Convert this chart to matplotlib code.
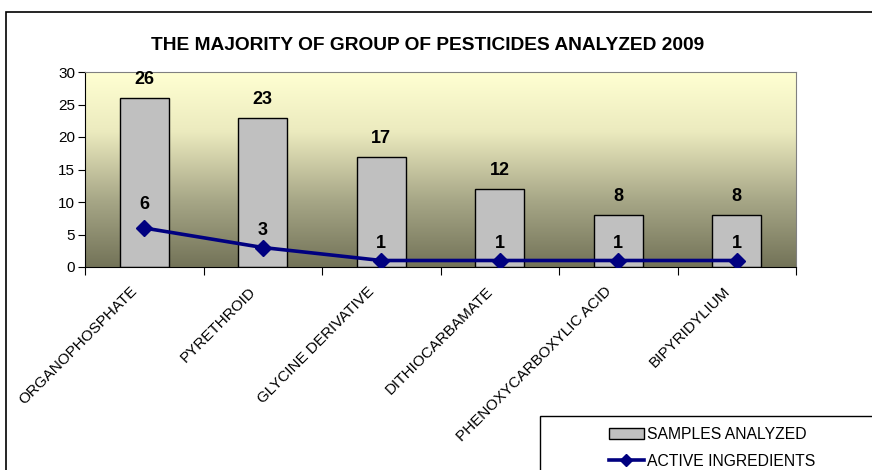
import numpy as np
import matplotlib.pyplot as plt
import matplotlib.transforms as mtransforms
from matplotlib.colors import LinearSegmentedColormap
from matplotlib.patches import Rectangle
from matplotlib.lines import Line2D

plt.rcParams['font.family'] = ['Liberation Sans', 'DejaVu Sans']

categories = ['ORGANOPHOSPHATE', 'PYRETHROID', 'GLYCINE DERIVATIVE',
              'DITHIOCARBAMATE', 'PHENOXYCARBOXYLIC ACID', 'BIPYRIDYLIUM']
samples = [26, 23, 17, 12, 8, 8]
ingredients = [6, 3, 1, 1, 1, 1]

fig = plt.figure(figsize=(8.72, 4.70), dpi=100)
ax = fig.add_axes([85/872, 1 - 267/470, 711/872, 195/470])

# gradient background (yellow top -> olive bottom)
cmap = LinearSegmentedColormap.from_list(
    'bg', [(0, '#737358'), (0.35, '#a8a888'), (0.7, '#ecebbf'), (1, '#ffffd2')])
grad = np.linspace(0, 1, 256).reshape(-1, 1)
ax.imshow(grad, cmap=cmap, aspect='auto', origin='lower',
          extent=[-0.5, 5.5, 0, 30], zorder=0)

x = np.arange(len(categories))
bars = ax.bar(x, samples, width=0.41, color='#c0c0c0', edgecolor='black',
              linewidth=1, zorder=2, label='SAMPLES ANALYZED')
ax.plot(x, ingredients, color='#000080', linewidth=2.6, marker='D',
        markersize=8, zorder=3, label='ACTIVE INGREDIENTS')

for xi, v in zip(x, samples):
    ax.annotate(str(v), (xi, v), xytext=(0, 13), textcoords='offset points',
                ha='center', va='center', fontsize=13, fontweight='bold')
for xi, v in zip(x, ingredients):
    off = 17 if v == max(ingredients) else 12
    ax.annotate(str(v), (xi, v), xytext=(0, off), textcoords='offset points',
                ha='center', va='center', fontsize=13, fontweight='bold')

ax.set_xlim(-0.5, 5.5)
ax.set_ylim(0, 30)
ax.set_yticks(range(0, 31, 5))
ax.tick_params(axis='y', labelsize=11, length=5, direction='out', pad=2)

ax.set_xticks(np.arange(-0.5, 6, 1))
ax.set_xticklabels([])
ax.tick_params(axis='x', length=6, direction='out')
ax.set_xticks(x, minor=True)
ax.set_xticklabels(categories, minor=True, rotation=45, ha='right', va='center',
                   rotation_mode='anchor', fontsize=11)
ax.tick_params(axis='x', which='minor', length=0, pad=16)
shift = mtransforms.ScaledTranslation(-9/100, 0, fig.dpi_scale_trans)
for lbl in ax.get_xticklabels(minor=True):
    lbl.set_transform(lbl.get_transform() + shift)

ax.spines['top'].set_color('#808080')
ax.spines['right'].set_color('#808080')

fig.suptitle('THE MAJORITY OF GROUP OF PESTICIDES ANALYZED 2009',
             x=428/872, y=1 - 45/470, va='center', fontsize=13.8, fontweight='bold')

# outer chart border
fig.patches.append(Rectangle((6/872, -0.05), 1.0, 1 - 12/470 + 0.05,
                             transform=fig.transFigure, fill=False,
                             edgecolor='black', linewidth=1.2))
# legend box
fig.patches.append(Rectangle((540/872, -0.05), 0.5, 1 - 416/470 + 0.05,
                             transform=fig.transFigure, fill=False,
                             edgecolor='black', linewidth=1))

handles = [Rectangle((0, 0), 1, 1, facecolor='#c0c0c0', edgecolor='black', linewidth=1),
           Line2D([], [], color='#000080', linewidth=2.6, marker='D', markersize=6)]
fig.legend(handles, ['SAMPLES ANALYZED', 'ACTIVE INGREDIENTS'],
           loc='upper left', bbox_to_anchor=(598/872, 1 - 416/470),
           frameon=False, fontsize=11.3, handlelength=2.2, handletextpad=0.2,
           labelspacing=0.75, borderpad=0.2)

fig.savefig('out.png', dpi=100)
